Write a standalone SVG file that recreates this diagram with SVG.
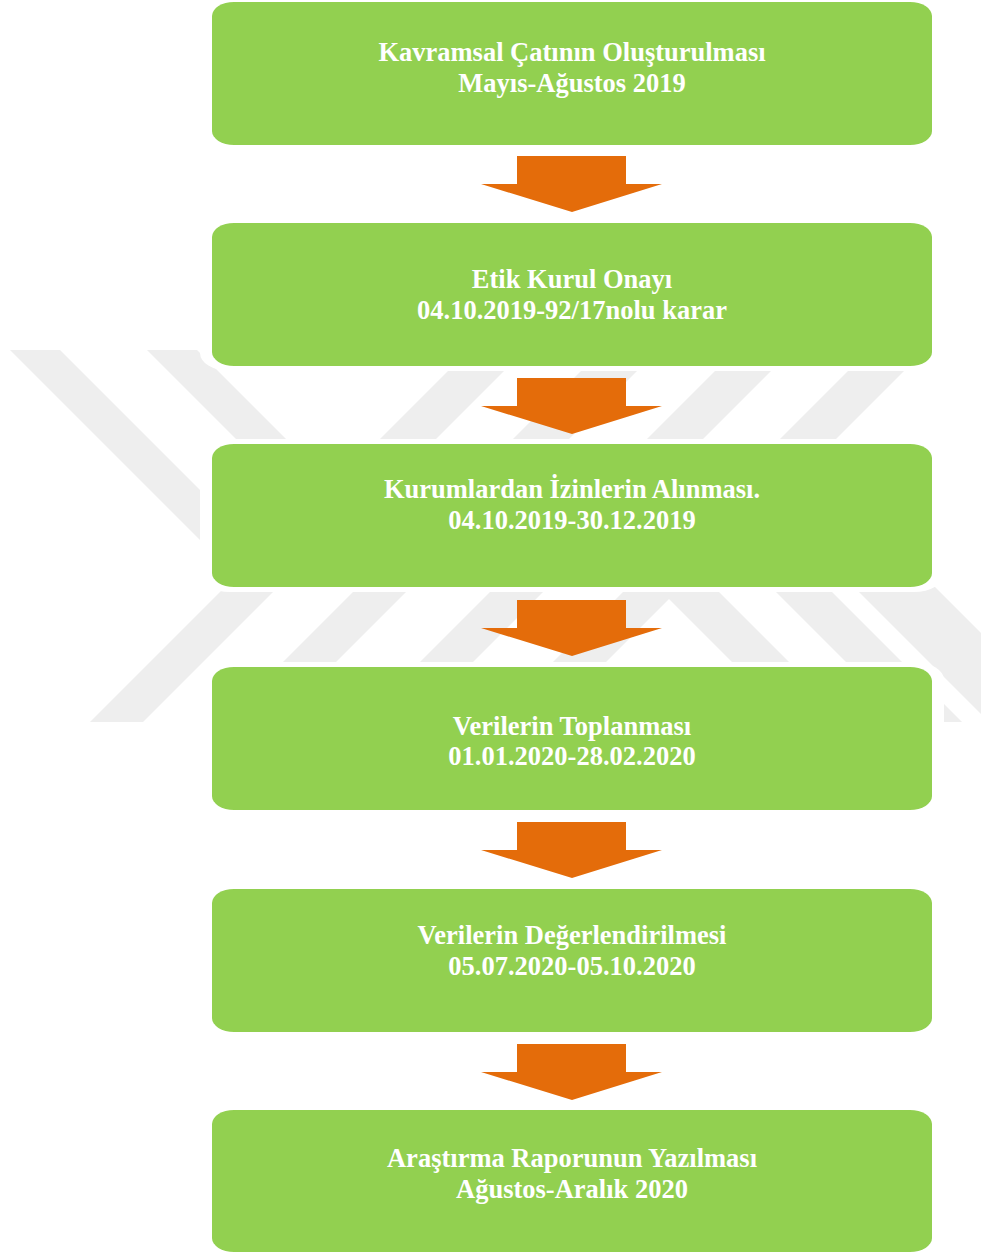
<svg xmlns="http://www.w3.org/2000/svg" width="981" height="1253" viewBox="0 0 981 1253">
  <style>
    .wm { fill: #EEEEEE; }
    .halo { fill: #FFFFFF; }
    .box { fill: #92D050; }
    .arrow { fill: #E46C0A; }
    .lbl { font-family: "Liberation Serif", "Times New Roman", serif; font-weight: bold; font-size: 26.5px; fill: #FFFFFF; text-anchor: middle; }
  </style>
  <rect x="0" y="0" width="981" height="1253" fill="#FFFFFF"/>
  <g id="watermark">
    <polygon class="wm" points="10,350 60,350 270,560 220,560"/>
    <polygon class="wm" points="147,350 197,350 377,530 327,530"/>
    <polygon class="wm" points="469,350 525,350 345,530 289,530"/>
    <polygon class="wm" points="602,350 658,350 478,530 422,530"/>
    <polygon class="wm" points="736,350 792,350 612,530 556,530"/>
    <polygon class="wm" points="869,350 925,350 745,530 689,530"/>
    <polygon class="wm" points="292,520 345,520 143,722 90,722"/>
    <polygon class="wm" points="425,520 478,520 276,722 223,722"/>
    <polygon class="wm" points="562,520 615,520 413,722 360,722"/>
    <polygon class="wm" points="695,520 748,520 546,722 493,722"/>
    <polygon class="wm" points="590,520 647,520 849,722 792,722"/>
    <polygon class="wm" points="704,520 760,520 962,722 906,722"/>
    <polygon class="wm" points="787,520 868,520 1070,722 989,722"/>
  </g>
  <g id="halos">
    <rect class="halo" x="200" y="-3" width="744" height="153" rx="30" ry="18"/>
    <rect class="halo" x="200" y="218" width="744" height="153" rx="30" ry="18"/>
    <rect class="halo" x="200" y="439" width="744" height="153" rx="30" ry="18"/>
    <rect class="halo" x="200" y="662" width="744" height="153" rx="30" ry="18"/>
    <rect class="halo" x="200" y="884" width="744" height="153" rx="30" ry="18"/>
    <rect class="halo" x="200" y="1105" width="744" height="153" rx="30" ry="18"/>
  </g>
  <g id="connectors">
    <polygon class="arrow" points="517,156 626,156 626,184 662,184 572,212 481,184 517,184"/>
    <polygon class="arrow" points="517,378 626,378 626,406 662,406 572,434 481,406 517,406"/>
    <polygon class="arrow" points="517,600 626,600 626,628 662,628 572,656 481,628 517,628"/>
    <polygon class="arrow" points="517,822 626,822 626,850 662,850 572,878 481,850 517,850"/>
    <polygon class="arrow" points="517,1044 626,1044 626,1072 662,1072 572,1100 481,1072 517,1072"/>
  </g>
  <g id="node1">
    <rect class="box" x="212" y="2" width="720" height="143" rx="22" ry="14"/>
    <text class="lbl" x="572" y="61">Kavramsal Çatının Oluşturulması</text>
    <text class="lbl" x="572" y="92">Mayıs-Ağustos 2019</text>
  </g>
  <g id="node2">
    <rect class="box" x="212" y="223" width="720" height="143" rx="22" ry="14"/>
    <text class="lbl" x="572" y="288">Etik Kurul Onayı</text>
    <text class="lbl" x="572" y="319">04.10.2019-92/17nolu karar</text>
  </g>
  <g id="node3">
    <rect class="box" x="212" y="444" width="720" height="143" rx="22" ry="14"/>
    <text class="lbl" x="572" y="498">Kurumlardan İzinlerin Alınması.</text>
    <text class="lbl" x="572" y="529">04.10.2019-30.12.2019</text>
  </g>
  <g id="node4">
    <rect class="box" x="212" y="667" width="720" height="143" rx="22" ry="14"/>
    <text class="lbl" x="572" y="735">Verilerin Toplanması</text>
    <text class="lbl" x="572" y="765">01.01.2020-28.02.2020</text>
  </g>
  <g id="node5">
    <rect class="box" x="212" y="889" width="720" height="143" rx="22" ry="14"/>
    <text class="lbl" x="572" y="944">Verilerin Değerlendirilmesi</text>
    <text class="lbl" x="572" y="975">05.07.2020-05.10.2020</text>
  </g>
  <g id="node6">
    <rect class="box" x="212" y="1110" width="720" height="142" rx="22" ry="14"/>
    <text class="lbl" x="572" y="1167">Araştırma Raporunun Yazılması</text>
    <text class="lbl" x="572" y="1198">Ağustos-Aralık 2020</text>
  </g>
</svg>
